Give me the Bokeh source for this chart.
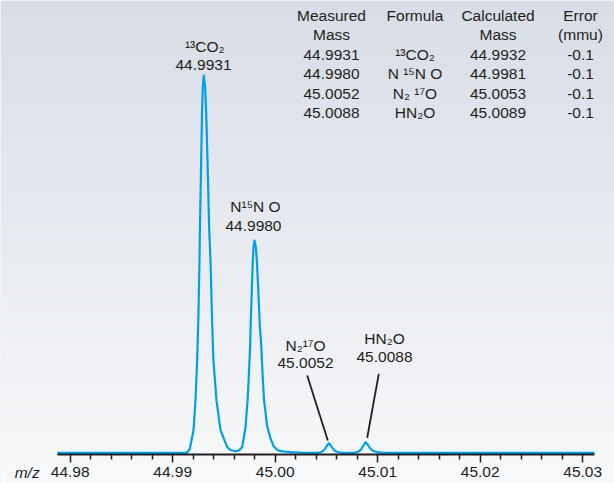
import numpy as np
from bokeh.plotting import figure
from bokeh.models import FixedTicker, Range1d, Label, PrintfTickFormatter
from bokeh.core.properties import value
from bokeh.embed import file_html
from bokeh.resources import INLINE

# ---------------- data ----------------
mz = [44.978732, 44.991376, 44.991668, 44.992029, 44.992224, 44.992390, 44.992498,
      44.992615, 44.992659, 44.992780, 44.992863, 44.992941, 44.993034, 44.993161,
      44.993268, 44.993395, 44.993551, 44.993688, 44.993844, 44.993961, 44.994273,
      44.994663, 44.995317, 44.995639, 44.996127, 44.996517, 44.996780, 44.997102,
      44.997307, 44.997415, 44.997561, 44.997605, 44.997727, 44.997810, 44.997888,
      44.997980, 44.998107, 44.998215, 44.998341, 44.998498, 44.998634, 44.998790,
      44.998907, 44.999200, 44.999541, 44.999863, 45.000224, 45.000517, 45.001005,
      45.001493, 45.002468, 45.003444, 45.004224, 45.004517, 45.004810, 45.005034,
      45.005229, 45.005424, 45.005639, 45.005883, 45.006176, 45.006566, 45.007737,
      45.008078, 45.008371, 45.008615, 45.008810, 45.009024, 45.009268, 45.009541,
      45.009883, 45.010371, 45.011054, 45.031151]
intensity = [0.0, 0.0, 1.01, 5.99, 13.89, 24.99, 35.01,
             50.99, 60.01, 77.50, 90.01, 97.01, 100.0, 97.01,
             90.01, 77.50, 60.01, 50.99, 35.01, 24.99, 13.89,
             5.99, 1.51, 0.74, 0.42, 0.72, 1.54, 6.71,
             14.07, 19.69, 28.70, 33.74, 43.60, 50.65, 54.57,
             56.27, 54.57, 50.65, 43.60, 33.74, 28.70, 19.69,
             14.07, 7.24, 3.79, 1.67, 0.72, 0.42, 0.29,
             0.19, 0.05, 0.0, 0.0, 0.21, 0.87, 1.80,
             2.54, 1.93, 1.01, 0.40, 0.13, 0.0, 0.0,
             0.24, 0.87, 1.93, 2.81, 2.20, 1.19, 0.53,
             0.19, 0.03, 0.0, 0.0]

header_1 = ["Measured", "Formula", "Calculated", "Error"]
header_2 = ["Mass", "", "Mass", "(mmu)"]
measured = ["44.9931", "44.9980", "45.0052", "45.0088"]
formula = ["¹³CO₂", "N ¹⁵N O", "N₂ ¹⁷O", "HN₂O"]
calculated = ["44.9932", "44.9981", "45.0053", "45.0089"]
error_mmu = ["-0.1", "-0.1", "-0.1", "-0.1"]

peak_formula = ["¹³CO₂", "N¹⁵N O", "N₂¹⁷O", "HN₂O"]

major_ticks = [44.98, 44.99, 45.00, 45.01, 45.02, 45.03]
minor_ticks = [44.982, 44.984, 44.986, 44.988, 44.992, 44.994, 44.996, 44.998,
               45.002, 45.004, 45.006, 45.008, 45.012, 45.014, 45.016, 45.018,
               45.022, 45.024, 45.026, 45.028]
axis_title = "m/z"

# ---------------- layout ----------------
W, H = 614, 483
X0, X1 = 44.973200, 45.033102
Y0, Y1 = -8.137, 119.878
AXIS_Y = -0.4506
AXIS_BOUNDS = (44.978732, 45.031151)
FONT = "Liberation Sans"
TXT = "#231f20"
FS = "15.5px"

p = figure(width=W, height=H, output_backend="svg", toolbar_location=None,
           x_range=Range1d(X0, X1), y_range=Range1d(Y0, Y1),
           y_axis_location=None, min_border_left=0, min_border_right=0,
           min_border_top=0, min_border_bottom=0)
p.outline_line_color = None
p.xgrid.visible = False
p.ygrid.visible = False
p.border_fill_color = "#f8f9fa"
p.background_fill_color = "#eceef3"

# background gradient (whole canvas)
NR = 483
rows = np.arange(NR)
py = 482.5 - rows
t = (py / 483.0)[:, None]
top = np.array([216, 221, 231], dtype=float)[None, :]
bot = np.array([248, 249, 250], dtype=float)[None, :]
cols = top * (1 - t) + bot * t
img = np.zeros((NR, 1), dtype=np.uint32)
view = img.view(dtype=np.uint8).reshape((NR, 1, 4))
view[:, 0, 0] = cols[:, 0]
view[:, 0, 1] = cols[:, 1]
view[:, 0, 2] = cols[:, 2]
view[:, 0, 3] = 255
p.image_rgba(image=[img], x=X0, y=Y0, dw=X1 - X0, dh=Y1 - Y0)

# spectrum
p.line(mz, intensity, line_color="#00a0e6", line_width=2.2, line_join="round")

# x axis, drawn at a fixed location inside the frame
ax = p.xaxis[0]
ax.fixed_location = AXIS_Y
ax.ticker = FixedTicker(ticks=major_ticks, minor_ticks=minor_ticks)
ax.formatter = PrintfTickFormatter(format="%.2f")
ax.bounds = AXIS_BOUNDS
ax.axis_line_color = TXT
ax.axis_line_width = 2
ax.major_tick_line_color = TXT
ax.minor_tick_line_color = TXT
ax.major_tick_line_width = 1.5
ax.minor_tick_line_width = 1.5
ax.major_tick_in = 0
ax.major_tick_out = 8
ax.minor_tick_in = 0
ax.minor_tick_out = 5
ax.major_label_standoff = 5
ax.major_label_text_font = FONT
ax.major_label_text_font_size = FS
ax.major_label_text_color = TXT

p.add_layout(Label(x=44.9758, y=-5.3, text=axis_title, text_font=FONT,
                   text_font_size=FS, text_font_style="italic", text_color=TXT,
                   text_align="center", text_baseline="middle"))

# table
col_x = [45.005493, 45.013639, 45.021737, 45.029785]
row_y = [115.87, 110.79, 105.49, 100.45, 95.15, 90.11]
tx, ty, tt = [], [], []
rows_txt = [header_1, header_2] + [list(r) for r in zip(measured, formula, calculated, error_mmu)]
for ri, row in enumerate(rows_txt):
    for ci, s in enumerate(row):
        if s:
            tx.append(col_x[ci]); ty.append(row_y[ri]); tt.append(s)
p.text(x=tx, y=ty, text=tt, text_font=value(FONT), text_font_size=FS,
       text_color=TXT, text_align="center", text_baseline="middle")

# peak labels
lab_x = [44.993122, 44.993005, 44.998078, 44.997880, 45.002956, 45.002956, 45.010663, 45.010663]
lab_y = [107.69, 102.90, 65.28, 59.98, 28.44, 23.93, 30.19, 25.52]
lab_t = []
for f, m in zip(peak_formula, measured):
    lab_t += [f, m]
p.text(x=lab_x, y=lab_y, text=lab_t, text_font=value(FONT), text_font_size=FS,
       text_color=TXT, text_align="center", text_baseline="middle")

# leader lines
p.segment(x0=[45.003122, 45.010107], y0=[20.49, 20.94],
          x1=[45.005132, 45.008976], y1=[3.26, 3.98],
          line_color=TXT, line_width=1.8)

open("out.html", "w").write(file_html(p, INLINE))
